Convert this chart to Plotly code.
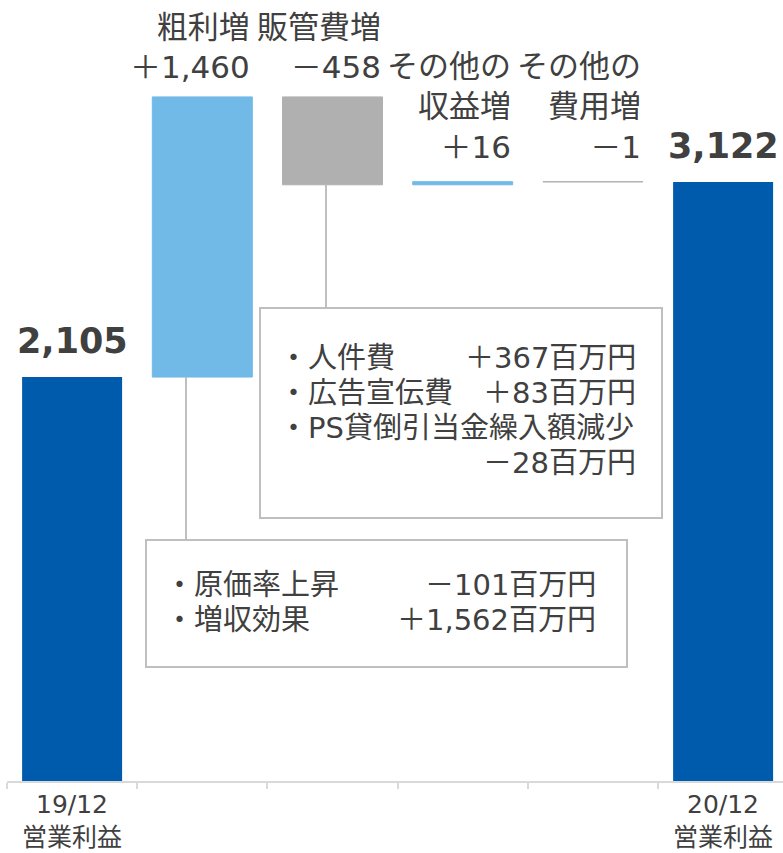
import plotly.graph_objects as go
import numpy as np

# ---- data ----
categories = ["19/12 営業利益", "粗利増", "販管費増", "その他の収益増", "その他の費用増", "20/12 営業利益"]
values = [2105, 1460, -458, 16, -1, 3122]
measures = ["absolute", "relative", "relative", "relative", "relative", "total"]
tick_labels = ["19/12<br>営業利益", "", "", "", "", "20/12<br>営業利益"]
total_texts = ["2,105", "3,122"]
change_names = ["粗利増", "販管費増", "その他の<br>収益増", "その他の<br>費用増"]
change_texts = ["＋1,460", "－458", "＋16", "－1"]
sga_items = ["・人件費", "・広告宣伝費", "・PS貸倒引当金繰入額減少", ""]
sga_values = ["＋367百万円", "＋83百万円", "", "－28百万円"]
gp_items = ["・原価率上昇", "・増収効果"]
gp_values = ["－101百万円", "＋1,562百万円"]

FONT = "DejaVu Sans, Noto Sans CJK JP"
TXT = "#404040"
DARK = "#005BAC"
LIGHT = "#71B9E6"
GRAY = "#B0B0B0"
BORDER = "#BFBFBF"
BW = 0.768

# layout geometry (pixels) used only for placing callout text/boxes
H, W = 853, 783
ML, MB, MT = 7, 72, 0
YMAX = 4070
XR = [-0.5, 5.46]
PLOT_H = H - MB - MT
PLOT_W = W - ML


def py2y(py):
    return (H - MB - py) / PLOT_H * YMAX


def py2paper(py):
    return (H - MB - py) / PLOT_H


def px2x(px):
    return XR[0] + (px - ML) / PLOT_W * (XR[1] - XR[0])


fig = go.Figure()
fig.add_trace(go.Waterfall(
    x=categories, y=values, measure=measures,
    width=BW,
    totals=dict(marker=dict(color=DARK, line=dict(color=DARK, width=0))),
    increasing=dict(marker=dict(color=LIGHT, line=dict(color=LIGHT, width=1))),
    decreasing=dict(marker=dict(color=GRAY, line=dict(color=GRAY, width=1))),
    connector=dict(visible=False),
    textposition="none", hoverinfo="skip",
))

cum = np.cumsum([values[0]] + values[1:5])
before = np.concatenate([[0], cum[:-1]])

annotations = []
for idx, txt in zip([0, 5], total_texts):
    annotations.append(dict(x=idx, y=values[idx], text="<b>%s</b>" % txt, showarrow=False,
                            yanchor="bottom", xanchor="center", yshift=14,
                            font=dict(family=FONT, size=35, color=TXT)))

yshifts = [10, 10, 15, 15]
for k in range(4):
    i = k + 1
    top = max(before[i], cum[i])
    annotations.append(dict(x=i + BW / 2, y=top, text=change_names[k] + "<br>" + change_texts[k],
                            showarrow=False, xanchor="right", yanchor="bottom", align="right",
                            yshift=yshifts[k],
                            font=dict(family=FONT, size=31, color=TXT)))

# category labels under the axis
for i, txt in enumerate(tick_labels):
    if txt:
        annotations.append(dict(x=i, y=py2paper(H), xref="x", yref="paper", text=txt,
                                showarrow=False, xanchor="center", yanchor="bottom",
                                align="center", borderpad=0,
                                font=dict(family=FONT, size=25, color=TXT)))

# callout boxes and leader lines
box1 = (px2x(260), px2x(662), py2y(518), py2y(308))
box2 = (px2x(146), px2x(627), py2y(667), py2y(540))
shapes = [
    dict(type="rect", x0=box1[0], x1=box1[1], y0=box1[2], y1=box1[3], xref="x", yref="y",
         line=dict(color=BORDER, width=2), fillcolor="white", layer="above"),
    dict(type="rect", x0=box2[0], x1=box2[1], y0=box2[2], y1=box2[3], xref="x", yref="y",
         line=dict(color=BORDER, width=2), fillcolor="white", layer="above"),
    dict(type="line", x0=px2x(326), x1=px2x(326), y0=cum[2], y1=box1[3], xref="x", yref="y",
         line=dict(color=BORDER, width=2), layer="above"),
    dict(type="line", x0=px2x(186), x1=px2x(186), y0=before[1], y1=box2[3], xref="x", yref="y",
         line=dict(color=BORDER, width=2), layer="above"),
]


def add_lines(items, vals, xl, xr, y0, step):
    for j, (a, b) in enumerate(zip(items, vals)):
        yy = py2y(y0 + j * step)
        if a:
            annotations.append(dict(x=px2x(xl), y=yy, text=a, showarrow=False,
                                    xanchor="left", yanchor="middle",
                                    font=dict(family=FONT, size=29, color=TXT)))
        if b:
            annotations.append(dict(x=px2x(xr), y=yy, text=b, showarrow=False,
                                    xanchor="right", yanchor="middle",
                                    font=dict(family=FONT, size=29, color=TXT)))


add_lines(sga_items, sga_values, 277, 638, 358, 35)
add_lines(gp_items, gp_values, 163, 598, 585, 35)

fig.update_layout(
    width=W, height=H,
    margin=dict(l=ML, r=0, t=MT, b=MB),
    paper_bgcolor="white", plot_bgcolor="white",
    showlegend=False,
    annotations=annotations, shapes=shapes,
    xaxis=dict(type="category", range=XR, tickmode="array",
               tickvals=categories, ticktext=[""] * len(categories), tickson="boundaries",
               ticks="outside", ticklen=6, tickcolor="#D9D9D9", tickwidth=1.5,
               showline=True, linecolor="#D9D9D9", linewidth=2, showgrid=False,
               automargin=False, fixedrange=True),
    yaxis=dict(range=[0, YMAX], visible=False, showgrid=False, zeroline=False, fixedrange=True),
)

fig.write_html("out.html", config=dict(displayModeBar=False),
               post_script="document.body.style.margin='0';document.body.style.overflow='hidden';")
